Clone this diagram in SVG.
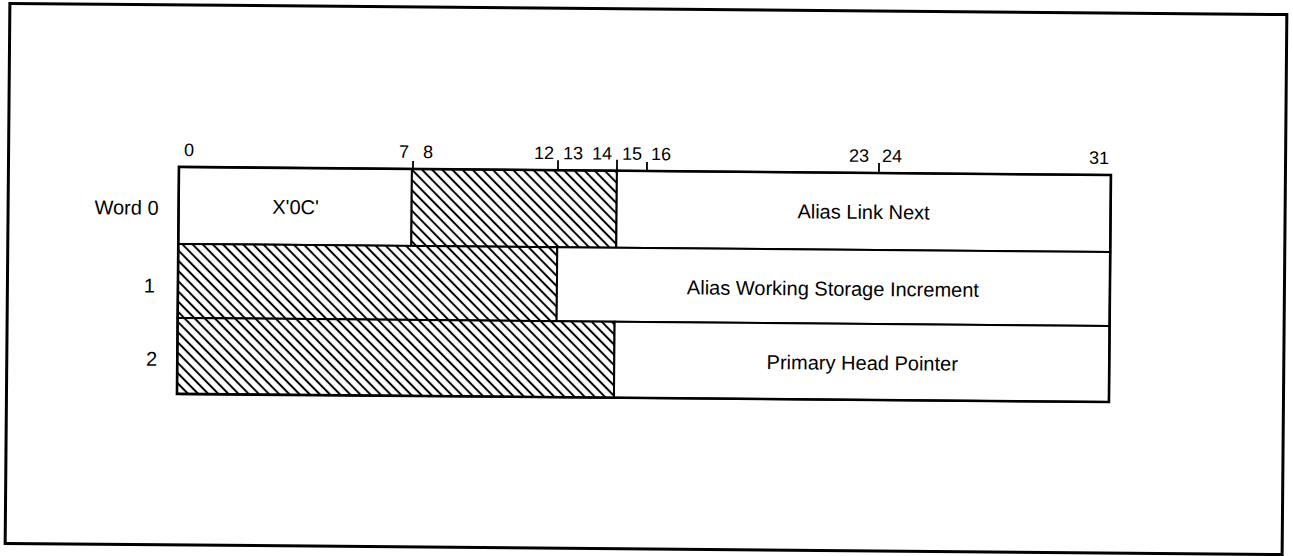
<svg xmlns="http://www.w3.org/2000/svg" width="1293" height="556" viewBox="0 0 1293 556">
<style>
.t{font-family:"Liberation Sans",Arial,sans-serif;font-size:20px;fill:#000}
.n{font-family:"Liberation Sans",Arial,sans-serif;font-size:18px;fill:#000}
.box{fill:#fff;stroke:#000;stroke-width:2}
.hat{fill:url(#hatch);stroke:#000;stroke-width:2}
.tick{stroke:#000;stroke-width:1.8;fill:none}
</style>
<defs>
<pattern id="hatch" patternUnits="userSpaceOnUse" width="12" height="7.2" patternTransform="rotate(45)">
<rect width="12" height="7.2" fill="#fff"/>
<line x1="0" y1="3.6" x2="12" y2="3.6" stroke="#000" stroke-width="2"/>
</pattern>
</defs>
<rect width="1293" height="556" fill="#fff"/>
<g transform="rotate(0.5 646 279)">
<g id="frame"><rect x="7.5" y="9" width="1277" height="540" fill="none" stroke="#000" stroke-width="3"/></g>
<g id="bit-scale">
<text class="n" x="183" y="160">0</text>
<text class="n" x="398" y="160">7</text>
<text class="n" x="422" y="160">8</text>
<text class="n" x="533" y="160">12</text>
<text class="n" x="562" y="160">13</text>
<text class="n" x="591" y="160">14</text>
<text class="n" x="621" y="160">15</text>
<text class="n" x="650" y="160">16</text>
<text class="n" x="848" y="160">23</text>
<text class="n" x="881" y="160">24</text>
<text class="n" x="1088" y="160">31</text>
</g>
<g id="row-labels">
<text class="t" x="158" y="219" text-anchor="end">Word 0</text>
<text class="t" x="155" y="297" text-anchor="end">1</text>
<text class="t" x="158" y="370" text-anchor="end">2</text>
</g>
<g id="word0-code"><rect class="box" x="178" y="171" width="233" height="77"/><text class="t" x="295" y="217" text-anchor="middle">X'0C'</text></g>
<g id="word0-reserved"><rect class="hat" x="411" y="171" width="205" height="77"/></g>
<g id="word0-link"><rect class="box" x="616" y="171" width="494" height="77"/><text class="t" x="863" y="217" text-anchor="middle">Alias Link Next</text></g>
<g id="word1-reserved"><rect class="hat" x="178" y="248" width="379" height="74"/></g>
<g id="word1-increment"><rect class="box" x="557" y="248" width="553" height="74"/><text class="t" x="833" y="294" text-anchor="middle">Alias Working Storage Increment</text></g>
<g id="word2-reserved"><rect class="hat" x="178" y="322" width="437" height="76"/></g>
<g id="word2-pointer"><rect class="box" x="615" y="322" width="495" height="76"/><text class="t" x="863" y="368" text-anchor="middle">Primary Head Pointer</text></g>
<g id="connectors">
<line class="tick" x1="412" y1="163" x2="412" y2="171"/>
<line class="tick" x1="557" y1="161" x2="557" y2="171"/>
<line class="tick" x1="616" y1="160" x2="616" y2="171"/>
<line class="tick" x1="646" y1="162" x2="646" y2="171"/>
<line class="tick" x1="878" y1="161" x2="878" y2="171"/>
</g>
<rect x="178" y="171" width="932" height="227" fill="none" stroke="#000" stroke-width="2.6"/>
</g>
</svg>
